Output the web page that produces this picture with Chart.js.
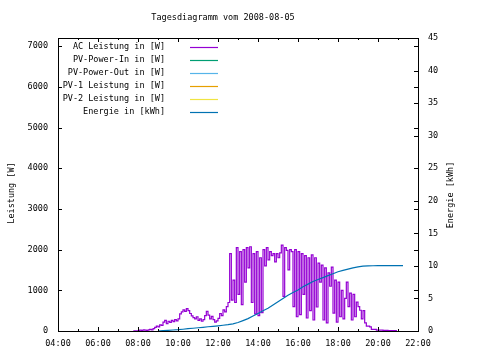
<!DOCTYPE html>
<html>
<head>
<meta charset="utf-8">
<script src="https://cdn.jsdelivr.net/npm/chart.js@4.4.0/dist/chart.umd.min.js"></script>
<style>
  html, body { margin: 0; padding: 0; background: #fff; }
  canvas { display: block; }
</style>
</head>
<body>
<canvas id="chart" width="480" height="360"></canvas>
<script>
const TITLE = "Tagesdiagramm vom 2008-08-05";
const Y_TITLE = "Leistung [W]";
const Y2_TITLE = "Energie [kWh]";

const SERIES_LABELS = [
  "AC Leistung in [W]",
  "PV-Power-In in [W]",
  "PV-Power-Out in [W]",
  "PV-1 Leistung in [W]",
  "PV-2 Leistung in [W]",
  "Energie in [kWh]",
];
const SERIES_COLORS = ["#9400d3", "#009e73", "#56b4e9", "#e69f00", "#f0e442", "#0072b2"];

// AC power, one sample every 5 minutes
const POWER_START = "07:45";
const POWER_STEP_MIN = 5;
const POWER_AC = [
  0, 5, 0,
  10, 20, 10, 30, 20, 10, 30, 40, 30, 60, 90, 120,
  100, 150, 140, 220, 260, 180, 240, 210, 260, 230, 280, 250,
  300, 420, 470, 520, 480, 550, 500, 430, 370, 330, 300, 350,
  260, 300, 240, 280, 380, 480, 390, 300, 360, 280, 220, 250,
  310, 430, 380, 520, 470, 600, 700, 1900, 760, 1250, 700, 2050,
  900, 1950, 650, 2000, 1200, 2050, 1550, 2070, 700, 1900, 420, 1950,
  380, 1800, 450, 2000, 1600, 2050, 1750, 1950, 1850, 1900, 1700, 1900,
  1800, 1920, 2110, 850, 2050, 1980, 1500, 2000, 1950, 600, 2000, 350,
  1950, 400, 1900, 900, 1850, 320, 1800, 500, 1870, 270, 1800, 590,
  1670, 1200, 1620, 270, 1550, 200, 1430, 1100, 1570, 440, 1250, 220,
  1200, 350, 1000, 300, 800, 1200, 600, 930, 270, 900, 350, 710,
  600, 510, 300, 500, 200, 120, 120, 100, 40, 40, 40, 20,
  20, 20, 20, 15, 15, 15, 10, 10, 10, 10, 10, 0,
];

// daily energy, one sample every 15 minutes
const ENERGY_START = "09:00";
const ENERGY_STEP_MIN = 15;
const ENERGY_KWH = [
  0.0, 0.05, 0.1, 0.15,
  0.2, 0.27, 0.35, 0.42,
  0.5, 0.57, 0.65, 0.72,
  0.8, 0.88, 0.97, 1.1,
  1.3, 1.6, 1.9, 2.3,
  2.7, 3.1, 3.5, 4.0,
  4.5, 5.0, 5.5, 5.9,
  6.3, 6.8, 7.2, 7.6,
  7.9, 8.2, 8.5, 8.8,
  9.1, 9.3, 9.5, 9.7,
  9.85, 9.95, 10.0, 10.02,
  10.04, 10.05, 10.05, 10.05,
  10.05, 10.05,
];

const X_TICK_LABELS = ["04:00", "06:00", "08:00", "10:00", "12:00", "14:00", "16:00", "18:00", "20:00", "22:00"];
const Y_TICKS = [0, 1000, 2000, 3000, 4000, 5000, 6000, 7000];
const Y2_TICKS = [0, 5, 10, 15, 20, 25, 30, 35, 40, 45];

const FONT = { family: "'DejaVu Sans Mono', monospace", size: 8.5 };

function toHours(s) {
  const [h, m] = s.split(":").map(Number);
  return h + m / 60;
}

function toPoints(start, stepMin, values) {
  const t0 = toHours(start);
  return values.map((v, i) => ({ x: t0 + (i * stepMin) / 60, y: v }));
}

const textPlugin = {
  id: "gnuplotText",
  afterDatasetsDraw(chart) {
    const { ctx, chartArea: a, scales } = chart;
    ctx.save();
    ctx.strokeStyle = "#000";
    ctx.lineWidth = 1;

    // frame
    ctx.strokeRect(a.left + 0.5, a.top + 0.5, a.right - a.left, a.bottom - a.top);

    // inward ticks
    ctx.beginPath();
    const x = scales.x;
    for (let h = Math.ceil(x.min); h <= x.max; h++) {
      const px = Math.round(x.getPixelForValue(h)) + 0.5;
      const len = h % 2 === 0 ? 4 : 2;
      ctx.moveTo(px, a.bottom);
      ctx.lineTo(px, a.bottom - len);
      ctx.moveTo(px, a.top);
      ctx.lineTo(px, a.top + len);
    }
    Y_TICKS.forEach((v) => {
      const py = Math.round(scales.y.getPixelForValue(v)) + 0.5;
      ctx.moveTo(a.left, py);
      ctx.lineTo(a.left + 4, py);
      ctx.moveTo(a.right, py);
      ctx.lineTo(a.right - 4, py);
    });
    Y2_TICKS.forEach((v) => {
      const py = Math.round(scales.y2.getPixelForValue(v)) + 0.5;
      ctx.moveTo(a.right, py);
      ctx.lineTo(a.right - 4, py);
    });
    ctx.stroke();

    ctx.fillStyle = "#000";
    ctx.font = `${FONT.size}px ${FONT.family}`;
    ctx.textBaseline = "middle";

    // title
    ctx.textAlign = "center";
    ctx.fillText(TITLE, 223, 18);

    // axis titles
    ctx.save();
    ctx.translate(12, 193);
    ctx.rotate(-Math.PI / 2);
    ctx.fillText(Y_TITLE, 0, 0);
    ctx.restore();
    ctx.save();
    ctx.translate(451, 195);
    ctx.rotate(-Math.PI / 2);
    ctx.fillText(Y2_TITLE, 0, 0);
    ctx.restore();

    // key
    chart.data.datasets.forEach((ds, i) => {
      const y = a.top + 9 + i * 13;
      ctx.textAlign = "right";
      ctx.fillStyle = "#000";
      ctx.fillText(ds.label, a.left + 107, y);
      ctx.strokeStyle = ds.borderColor;
      ctx.lineWidth = 1.2;
      ctx.beginPath();
      ctx.moveTo(a.left + 132, Math.round(y) + 0.5);
      ctx.lineTo(a.left + 160, Math.round(y) + 0.5);
      ctx.stroke();
    });
    ctx.restore();
  },
};

const powerSets = SERIES_LABELS.slice(0, 5).map((label, i) => ({
  label,
  data: i === 0 ? toPoints(POWER_START, POWER_STEP_MIN, POWER_AC) : [],
  borderColor: SERIES_COLORS[i],
  borderWidth: 1.2,
  pointRadius: 0,
  stepped: true,
  yAxisID: "y",
  order: 1 + i,
}));

new Chart(document.getElementById("chart"), {
  type: "line",
  data: {
    datasets: [
      ...powerSets,
      {
        label: SERIES_LABELS[5],
        data: toPoints(ENERGY_START, ENERGY_STEP_MIN, ENERGY_KWH),
        borderColor: SERIES_COLORS[5],
        borderWidth: 1.2,
        pointRadius: 0,
        yAxisID: "y2",
        order: 0,
      },
    ],
  },
  options: {
    responsive: false,
    animation: false,
    devicePixelRatio: 1,
    layout: { padding: { top: 38, left: 0, right: 0, bottom: 0 } },
    plugins: {
      legend: { display: false },
      tooltip: { enabled: false },
    },
    scales: {
      x: {
        type: "linear",
        min: 4,
        max: 22,
        afterFit: (s) => { s.height = 29; },
        afterBuildTicks: (s) => { s.ticks = X_TICK_LABELS.map((t) => ({ value: toHours(t) })); },
        ticks: {
          color: "#000",
          font: FONT,
          padding: 8,
          maxRotation: 0,
          autoSkip: false,
          callback: (v) => X_TICK_LABELS.find((t) => Math.abs(toHours(t) - v) < 1e-6) || "",
        },
        grid: { display: false, drawTicks: false },
        border: { display: false },
      },
      y: {
        position: "left",
        min: 0,
        max: 7200,
        afterFit: (s) => { s.width = 58; },
        afterBuildTicks: (s) => { s.ticks = Y_TICKS.map((v) => ({ value: v })); },
        ticks: { color: "#000", font: FONT, padding: 10, callback: (v) => String(v) },
        grid: { display: false, drawTicks: false },
        border: { display: false },
      },
      y2: {
        position: "right",
        min: 0,
        max: 45,
        afterFit: (s) => { s.width = 62; },
        afterBuildTicks: (s) => { s.ticks = Y2_TICKS.map((v) => ({ value: v })); },
        ticks: { color: "#000", font: FONT, padding: 10, callback: (v) => String(v) },
        grid: { display: false, drawTicks: false },
        border: { display: false },
      },
    },
  },
  plugins: [textPlugin],
});
</script>
</body>
</html>
